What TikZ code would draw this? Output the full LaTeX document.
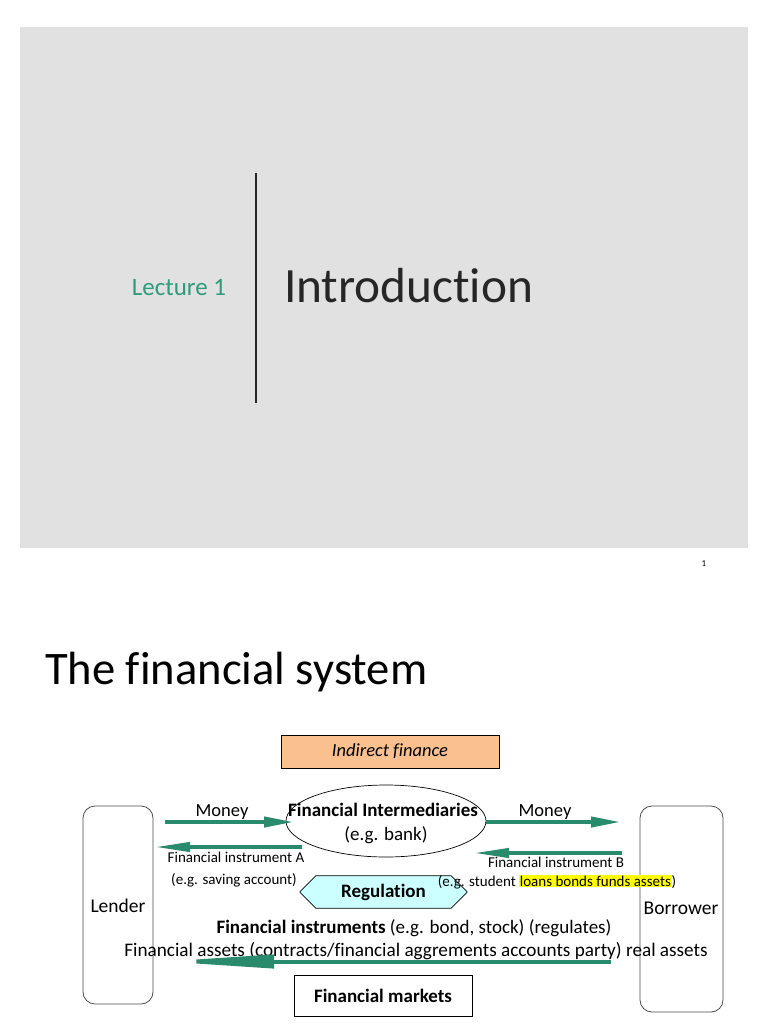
\documentclass[tikz,border=0pt]{standalone}
\usepackage{fontspec}
\setmainfont{Carlito}[Ligatures=CommonOff]
\usetikzlibrary{arrows.meta,shapes.geometric,shapes.misc}
\definecolor{slidegray}{HTML}{E1E1E1}
\definecolor{lecgreen}{HTML}{2E9C7A}
\definecolor{arrgreen}{HTML}{2A8A6C}
\definecolor{boxorange}{HTML}{FAC090}
\definecolor{regcyan}{HTML}{CCFFFF}
\definecolor{titlegray}{HTML}{262626}
\definecolor{hiyellow}{HTML}{FFFF00}
\newcommand{\fs}[1]{\fontsize{#1}{#1}\selectfont}
\begin{document}
\begin{tikzpicture}[x=1pt,y=-1pt,
  every node/.style={inner sep=0pt, outer sep=0pt},
  txt/.style={anchor=base, text=black},
  flow/.style={draw=arrgreen, line width=4pt, -{Triangle[length=30pt,width=10pt]}},
  longflow/.style={draw=arrgreen, line width=4pt, -{Triangle[length=112pt,width=13pt]}},
  party/.style={draw=black!70, rounded corners=12pt, line width=0.8pt},
  plainbox/.style={draw=black, line width=0.8pt}]
\useasboundingbox (0,0) rectangle (768,1024);
\fill[white] (0,0) rectangle (768,1024);
% ---- slide 1 ----
\node[fill=slidegray, minimum width=728pt, minimum height=521pt, anchor=north west] (slide) at (20,27) {};
\coordinate (bartop) at (256,173);
\coordinate (barbot) at (256,403);
\draw[line width=1.6pt, titlegray] (bartop) -- (barbot);
\node[anchor=base, text=lecgreen, font=\fs{25}] (lec) at (179,295) {Lecture 1};
\node[anchor=base west, text=titlegray, font=\fs{49.3}] (intro) at (284,302) {Introduction};
\node[anchor=base, font=\fs{9}] (pnum) at (704,566) {1};
% ---- slide 2 ----
\node[anchor=base west, font=\fs{46.6}] (title) at (45,684) {The financial system};
\node[plainbox, fill=boxorange, minimum width=218pt, minimum height=33pt, font=\fs{18.5}\itshape] (indirect) at (390,751.5) {Indirect finance};
\node[party, minimum width=70pt, minimum height=198pt] (lender) at (118,905) {};
\node[party, minimum width=83pt, minimum height=206pt] (borrower) at (681.5,909) {};
\node[txt, font=\fs{19.5}] (lendert) at (118,912) {Lender};
\node[txt, font=\fs{19.5}] (borrowert) at (681,914) {Borrower};
\node[draw=black, line width=0.7pt, ellipse, minimum width=200pt, minimum height=72pt] (fi) at (386,821) {};
\node[txt, font=\fs{19}\bfseries] (fit) at (383,816) {Financial Intermediaries};
\node[txt, font=\fs{19}] (fib) at (386,840) {(e.g. bank)};
\node[txt, font=\fs{18.5}] (money1) at (222,816) {Money};
\node[txt, font=\fs{18.5}] (money2) at (545,816) {Money};
\node[txt, font=\fs{15}] (insA) at (236,862) {Financial instrument A};
\node[txt, font=\fs{15}] (insAe) at (234,884) {(e.g. saving account)};
\node[txt, font=\fs{15}] (insB) at (556,867) {Financial instrument B};
\node[draw=black, line width=0.7pt, fill=regcyan, chamfered rectangle, chamfered rectangle sep=8pt, minimum width=167pt, minimum height=32pt, font=\fs{19}\bfseries] (reg) at (383.5,892) {Regulation};
\node[txt, font=\fs{15}] (insBe) at (557,886) {(e.g. student {\setlength{\fboxsep}{0.6pt}\colorbox{hiyellow}{loans bonds funds assets}})};
\node[txt, font=\fs{19}] (instr) at (414,933) {\textbf{Financial instruments} (e.g. bond, stock) (regulates)};
\node[txt, font=\fs{19.2}] (assets) at (416,956) {Financial assets (contracts/financial aggrements accounts party) real assets};
\node[plainbox, minimum width=178pt, minimum height=41pt, font=\fs{19}\bfseries] (markets) at (383,995.5) {Financial markets};
% ---- arrows ----
\coordinate (m1s) at (165,822);
\coordinate (m1e) at (294,822);
\coordinate (m2s) at (486,822);
\coordinate (m2e) at (621,822);
\coordinate (aS) at (302,847);
\coordinate (aE) at (154,847);
\coordinate (bS) at (622,853);
\coordinate (bE) at (473,853);
\coordinate (cS) at (611,961.5);
\coordinate (cE) at (162,961.5);
\draw[flow] (m1s) -- (m1e);
\draw[flow] (m2s) -- (m2e);
\draw[flow, -{Triangle[length=36pt,width=9pt]}] (aS) -- (aE);
\draw[flow, -{Triangle[length=36pt,width=9pt]}] (bS) -- (bE);
\draw[longflow] (cS) -- (cE);
\end{tikzpicture}
\end{document}
